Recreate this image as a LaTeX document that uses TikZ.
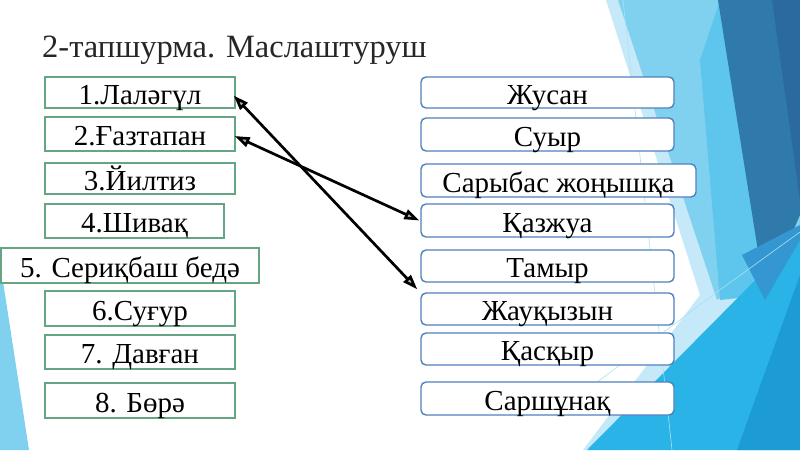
\documentclass[tikz,border=0pt]{standalone}
\usepackage{fontspec}
\setmainfont{Liberation Serif}
\usetikzlibrary{arrows.meta}
\definecolor{pale}{HTML}{C5E9F8}
\definecolor{lightb}{HTML}{80D0EF}
\definecolor{medc}{HTML}{5EC5EC}
\definecolor{darkb}{HTML}{2F79AB}
\definecolor{darkerb}{HTML}{2A6A9F}
\definecolor{cyanb}{HTML}{29B3E6}
\definecolor{blueb}{HTML}{1C9BD5}
\definecolor{midb}{HTML}{3597D2}
\definecolor{greenbd}{HTML}{66A583}
\definecolor{bluebd}{HTML}{4F81BD}
\definecolor{titlec}{HTML}{262626}
\tikzset{
  boxtext/.style={font=\fontsize{29}{31}\selectfont, text height=23.5pt, text depth=0pt, inner sep=0pt, align=center},
  lbox/.style={boxtext, draw=greenbd, line width=1.4pt, fill=white},
  rbox/.style={boxtext, draw=bluebd, line width=1.4pt, fill=white, rounded corners=5pt},
  conn/.style={line width=2.7pt, {Triangle[length=15pt,width=10pt,fill=gray!55]}-{Triangle[length=15pt,width=10pt,fill=gray!55]}},
  thinline/.style={draw=white!60!cyanb, line width=0.6pt}
}
\begin{document}
\begin{tikzpicture}[x=1pt,y=-1pt]
\useasboundingbox (0,0) rectangle (800,450);
\fill[white] (0,0) rectangle (800,450);
% background facets
\fill[pale] (606,0) -- (700,0) -- (760,290) -- (620,450) -- (583,450) -- (700,295) -- cycle;
\fill[lightb] (618,0) -- (800,0) -- (800,240) -- (717,300) -- cycle;
\fill[medc] (700,60) -- (720,0) -- (765,295) -- (720,300) -- cycle;
\fill[darkb] (718,0) -- (800,0) -- (800,215) -- (765,295) -- cycle;
\fill[darkerb] (772,0) -- (800,0) -- (800,200) -- cycle;
\fill[cyanb] (587,450) -- (800,235) -- (800,450) -- cycle;
\fill[midb] (742,255) -- (800,225) -- (800,240) -- (765,300) -- cycle;
\fill[blueb] (737,450) -- (800,275) -- (800,450) -- cycle;
\fill[lightb] (0,262) -- (29,450) -- (0,450) -- cycle;
\draw[thinline] (623,0) -- (672,450);
\draw[thinline] (560,410) -- (717,292) -- (800,232);
% title
\node[anchor=base west, inner sep=0pt, text=titlec, font=\fontsize{32.5}{34}\selectfont] (title) at (42,57) {2-тапшурма. Маслаштуруш};
% left boxes
\node[lbox, minimum width=190pt, minimum height=31pt] (b1) at (140,92.5) {1.Лаләгүл};
\node[lbox, minimum width=190pt, minimum height=34pt] (b2) at (140,134) {2.Ғазтапан};
\node[lbox, minimum width=190pt, minimum height=31pt] (b3) at (140,178.5) {3.Йилтиз};
\node[lbox, minimum width=179pt, minimum height=34pt] (b4) at (134.5,221) {4.Шивақ};
\node[lbox, minimum width=258pt, minimum height=35pt] (b5) at (130,265.5) {5. Сериқбаш бедә};
\node[lbox, minimum width=190pt, minimum height=35pt] (b6) at (140,308.5) {6.Суғур};
\node[lbox, minimum width=190pt, minimum height=34pt] (b7) at (140,352) {7. Давған};
\node[lbox, minimum width=190pt, minimum height=35pt] (b8) at (140,400.5) {8. Бөрә};
% right boxes
\node[rbox, minimum width=253pt, minimum height=31pt] (r1) at (547.5,92.5) {Жусан};
\node[rbox, minimum width=253pt, minimum height=33pt] (r2) at (547.5,134.5) {Суыр};
\node[rbox, minimum width=275pt, minimum height=33pt] (r3) at (558.5,180.5) {Сарыбас жоңышқа};
\node[rbox, minimum width=253pt, minimum height=33pt] (r4) at (547.5,220.5) {Қазжуа};
\node[rbox, minimum width=253pt, minimum height=32pt] (r5) at (547.5,266) {Тамыр};
\node[rbox, minimum width=253pt, minimum height=32pt] (r6) at (547.5,309) {Жауқызын};
\node[rbox, minimum width=253pt, minimum height=32pt] (r7) at (547.5,349) {Қасқыр};
\node[rbox, minimum width=253pt, minimum height=33pt] (r8) at (547.5,398.5) {Саршұнақ};
% connectors
\draw[conn] ([xshift=-2pt,yshift=-3pt]b1.east) -- ([xshift=-3pt,yshift=3pt]r6.north west);
\draw[conn] ([xshift=-1pt,yshift=-2pt]b2.east) -- ([xshift=-1pt]r4.west);
\end{tikzpicture}
\end{document}
